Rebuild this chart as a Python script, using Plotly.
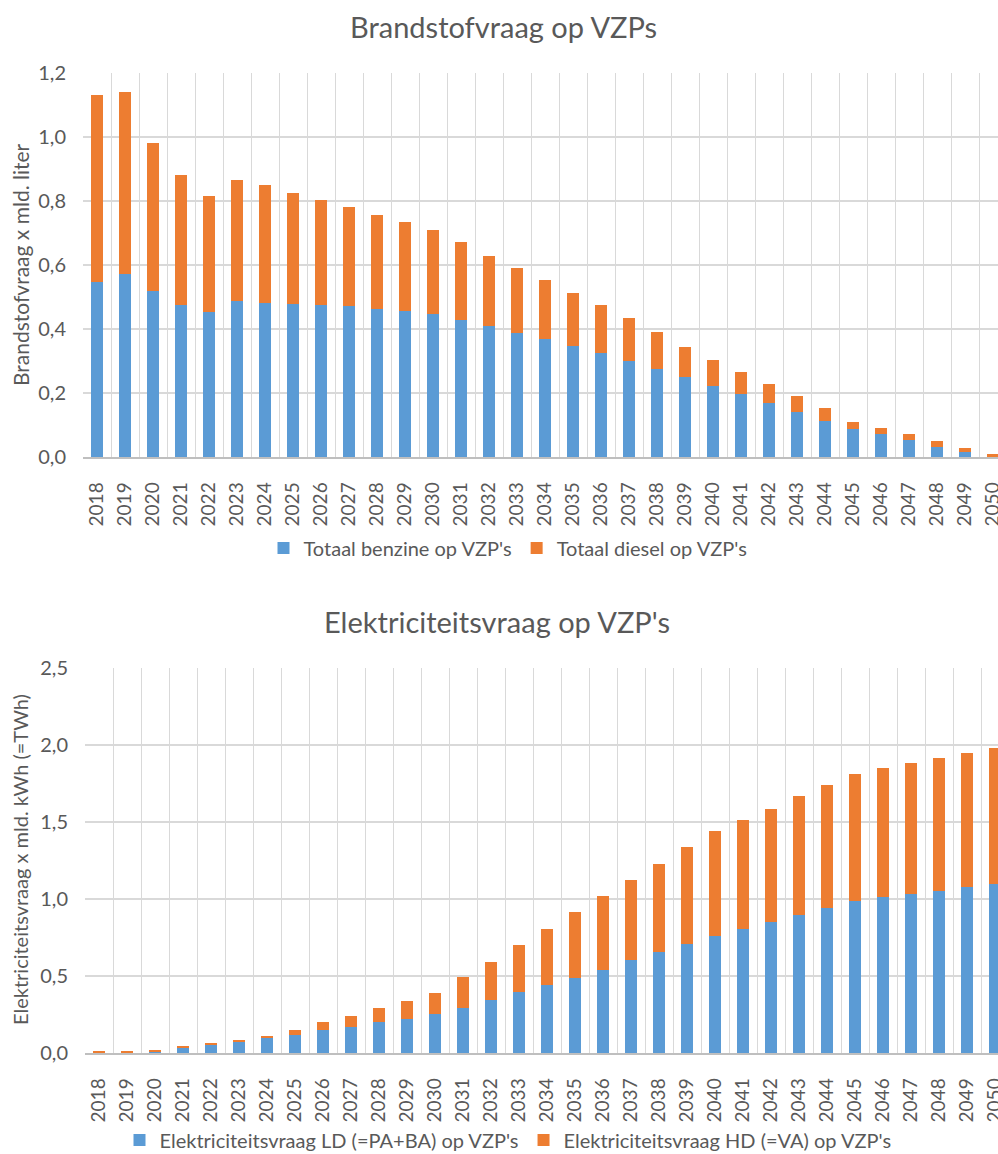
import plotly.graph_objects as go

years = [str(y) for y in range(2018, 2051)]

benzine = [0.548, 0.573, 0.520, 0.474, 0.453, 0.486, 0.481, 0.478, 0.474, 0.471, 0.464,
           0.456, 0.447, 0.429, 0.408, 0.387, 0.369, 0.348, 0.324, 0.299, 0.275, 0.250,
           0.223, 0.198, 0.169, 0.142, 0.113, 0.088, 0.071, 0.054, 0.032, 0.015, 0.001]
diesel = [0.582, 0.568, 0.460, 0.407, 0.364, 0.381, 0.368, 0.347, 0.330, 0.309, 0.291,
          0.277, 0.262, 0.242, 0.220, 0.203, 0.183, 0.165, 0.150, 0.134, 0.115, 0.095,
          0.080, 0.069, 0.060, 0.048, 0.039, 0.022, 0.021, 0.018, 0.019, 0.014, 0.007]

elek_ld = [0.002, 0.002, 0.009, 0.035, 0.054, 0.074, 0.100, 0.119, 0.150, 0.171, 0.202,
           0.223, 0.254, 0.295, 0.347, 0.397, 0.440, 0.490, 0.542, 0.603, 0.655, 0.711,
           0.763, 0.807, 0.850, 0.893, 0.939, 0.989, 1.010, 1.032, 1.054, 1.075, 1.097]
elek_hd = [0.009, 0.009, 0.011, 0.006, 0.007, 0.011, 0.008, 0.031, 0.052, 0.072, 0.093,
           0.117, 0.136, 0.197, 0.245, 0.305, 0.367, 0.425, 0.475, 0.518, 0.574, 0.627,
           0.677, 0.706, 0.737, 0.774, 0.800, 0.824, 0.839, 0.848, 0.861, 0.876, 0.883]

BLUE = "#5B9BD5"
ORANGE = "#ED7D31"
GRID = "#D9D9D9"
TXT = "#595959"
FONT = "Lato"
W, H = 998, 1154


def px(x):
    return x / W


def py(y):
    return 1 - y / H


fig = go.Figure()
fig.add_trace(go.Bar(x=years, y=benzine, name="Totaal benzine op VZP's", marker_color=BLUE,
                     xaxis="x", yaxis="y", legend="legend"))
fig.add_trace(go.Bar(x=years, y=diesel, name="Totaal diesel op VZP's", marker_color=ORANGE,
                     xaxis="x", yaxis="y", legend="legend"))
fig.add_trace(go.Bar(x=years, y=elek_ld, name="Elektriciteitsvraag LD (=PA+BA) op VZP's",
                     marker_color=BLUE, xaxis="x2", yaxis="y2", legend="legend2"))
fig.add_trace(go.Bar(x=years, y=elek_hd, name="Elektriciteitsvraag HD (=VA) op VZP's",
                     marker_color=ORANGE, xaxis="x2", yaxis="y2", legend="legend2"))
fig.update_traces(marker_line_width=0)


def xax(left, anchor):
    right_end = -0.5 + (W - left) / 28.0
    return dict(domain=[px(left), 1.0], anchor=anchor, type="category", automargin=False,
                range=[-0.5, right_end], tickson="boundaries", showgrid=True,
                gridcolor=GRID, gridwidth=1, showline=True, linecolor="#BFBFBF", linewidth=1.5,
                ticks="", tickangle=-90, tickfont=dict(family=FONT, size=19, color=TXT),
                ticklabelstandoff=16, fixedrange=True)


def yax(top, bottom, rng, dtick, anchor):
    return dict(domain=[py(bottom), py(top)], anchor=anchor, range=rng, dtick=dtick,
                automargin=False,
                tickformat=".1f", showgrid=True, gridcolor=GRID, gridwidth=1.5,
                zeroline=False, showline=False, ticks="",
                tickfont=dict(family=FONT, size=20, color=TXT), ticklabelstandoff=16,
                fixedrange=True)


fig.update_layout(
    width=W, height=H,
    margin=dict(l=0, r=0, t=0, b=0, autoexpand=False),
    paper_bgcolor="white", plot_bgcolor="white",
    separators=",.",
    barmode="stack", bargap=0.58,
    font=dict(family=FONT, color=TXT),
    xaxis=xax(83, "y"),
    yaxis=yax(73, 457, [0, 1.2], 0.2, "x"),
    xaxis2=xax(85, "y2"),
    yaxis2=yax(668, 1053, [0, 2.5], 0.5, "x2"),
    legend=dict(orientation="h", x=px(508), xanchor="center", y=py(548), yanchor="middle",
                font=dict(family=FONT, size=20, color=TXT), traceorder="normal",
                itemwidth=30, bgcolor="rgba(0,0,0,0)"),
    legend2=dict(orientation="h", x=px(508), xanchor="center", y=py(1140), yanchor="middle",
                 font=dict(family=FONT, size=20, color=TXT), traceorder="normal",
                 itemwidth=30, bgcolor="rgba(0,0,0,0)"),
    annotations=[
        dict(text="Brandstofvraag op VZPs", x=px(503), y=py(26), xref="paper", yref="paper",
             showarrow=False, font=dict(family=FONT, size=29, color=TXT),
             xanchor="center", yanchor="middle"),
        dict(text="Elektriciteitsvraag op VZP's", x=px(497), y=py(621), xref="paper",
             yref="paper", showarrow=False, font=dict(family=FONT, size=29, color=TXT),
             xanchor="center", yanchor="middle"),
        dict(text="Brandstofvraag x mld. liter", x=px(20), y=py(265), xref="paper",
             yref="paper", showarrow=False, textangle=-90,
             font=dict(family=FONT, size=21, color=TXT), xanchor="center", yanchor="middle"),
        dict(text="Elektriciteitsvraag x mld. kWh (=TWh)", x=px(20), y=py(860), xref="paper",
             yref="paper", showarrow=False, textangle=-90,
             font=dict(family=FONT, size=20, color=TXT), xanchor="center", yanchor="middle"),
    ],
)

fig.write_html(
    "out.html",
    config={"displayModeBar": False},
    post_script="document.body.style.margin='0';document.body.style.padding='0';"
                "document.body.style.overflow='hidden';",
)
